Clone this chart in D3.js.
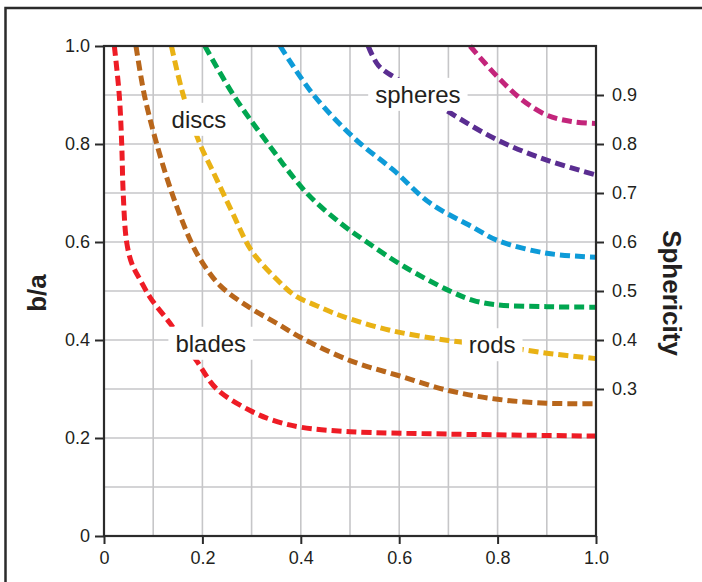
<!DOCTYPE html>
<html>
<head>
<meta charset="utf-8">
<script src="https://cdn.jsdelivr.net/npm/d3@7"></script>
<style>
  html, body { margin: 0; padding: 0; background: #fff; }
  svg { display: block; font-family: "Liberation Sans", Arial, Helvetica, sans-serif; }
</style>
</head>
<body>
<svg id="chart" width="702" height="582"></svg>
<script>
// ---- data ----
const xTicks = [0, 0.2, 0.4, 0.6, 0.8, 1.0];
const xTickLabels = ["0", "0.2", "0.4", "0.6", "0.8", "1.0"];
const yTicks = [0, 0.2, 0.4, 0.6, 0.8, 1.0];
const yTickLabels = ["0", "0.2", "0.4", "0.6", "0.8", "1.0"];
const sphericityTicks = [0.3, 0.4, 0.5, 0.6, 0.7, 0.8, 0.9];
const gridValues = [0.1, 0.2, 0.3, 0.4, 0.5, 0.6, 0.7, 0.8, 0.9];

const redCurve = [[0.021,1.0],[0.031,0.9],[0.036,0.8],[0.039,0.7],[0.046,0.6],[0.057,0.555],[0.075,0.52],[0.095,0.485],[0.135,0.433],[0.188,0.358],[0.229,0.3],[0.297,0.256],[0.344,0.236],[0.4,0.222],[0.5,0.213],[0.7,0.208],[1.0,0.204]];
const brownCurve = [[0.065,1.0],[0.082,0.9],[0.105,0.808],[0.138,0.7],[0.177,0.6],[0.2,0.558],[0.236,0.511],[0.29,0.47],[0.358,0.43],[0.4,0.405],[0.5,0.358],[0.6,0.327],[0.7,0.297],[0.8,0.279],[0.9,0.271],[1.0,0.27]];
const yellowCurve = [[0.137,1.0],[0.161,0.9],[0.195,0.8],[0.22,0.747],[0.26,0.662],[0.3,0.582],[0.351,0.524],[0.389,0.49],[0.432,0.47],[0.48,0.45],[0.581,0.42],[0.7,0.399],[0.8,0.388],[0.9,0.373],[1.0,0.362]];
const greenCurve = [[0.205,1.0],[0.263,0.9],[0.328,0.808],[0.412,0.7],[0.48,0.639],[0.534,0.6],[0.608,0.551],[0.703,0.5],[0.75,0.481],[0.797,0.472],[0.9,0.468],[1.0,0.467]];
const blueCurve = [[0.358,1.0],[0.426,0.9],[0.513,0.808],[0.588,0.747],[0.662,0.68],[0.75,0.63],[0.8,0.603],[0.9,0.577],[1.0,0.569]];
const purpleCurve = [[0.537,1.0],[0.558,0.96],[0.6,0.93],[0.65,0.9],[0.7,0.866],[0.8,0.808],[0.9,0.767],[1.0,0.737]];
const magentaCurve = [[0.744,1.0],[0.8,0.937],[0.85,0.89],[0.9,0.859],[0.95,0.846],[1.0,0.842]];

const curves = [redCurve, brownCurve, yellowCurve, greenCurve, blueCurve, purpleCurve, magentaCurve];
const curveColors = ["#ee1c25", "#b8661b", "#e9b215", "#00a650", "#0e9bd8", "#5a2d91", "#c3257b"];

const labelTexts = ["discs", "spheres", "blades", "rods"];
const labelX = [0.193, 0.638, 0.217, 0.789];
const labelY = [0.833, 0.884, 0.376, 0.373];

// ---- layout ----
const svg = d3.select("#chart");
const mLeft = 104, mTop = 46, plotW = 492, plotH = 490;
const x = d3.scaleLinear().domain([0, 1]).range([mLeft, mLeft + plotW]);
const y = d3.scaleLinear().domain([0, 1]).range([mTop + plotH, mTop]);

// outer frame (cropped at right/bottom)
svg.append("rect").attr("x", 5.5).attr("y", 8).attr("width", 900).attr("height", 900)
  .attr("fill", "none").attr("stroke", "#2b2b2b").attr("stroke-width", 2.5);

// grid
const grid = svg.append("g").attr("stroke", "#c6c6c8").attr("stroke-width", 1.6);
grid.selectAll(".gx").data(gridValues).join("line").attr("class", "gx")
  .attr("x1", d => x(d)).attr("x2", d => x(d)).attr("y1", y(0)).attr("y2", y(1));
grid.selectAll(".gy").data(gridValues).join("line").attr("class", "gy")
  .attr("y1", d => y(d)).attr("y2", d => y(d)).attr("x1", x(0)).attr("x2", x(1));

// curves
const line = d3.line().x(d => x(d[0])).y(d => y(d[1])).curve(d3.curveCatmullRom.alpha(0.5));
svg.append("g").selectAll("path").data(curves).join("path")
  .attr("d", line)
  .attr("fill", "none")
  .attr("stroke", (d, i) => curveColors[i])
  .attr("stroke-width", 5)
  .attr("stroke-dasharray", "10,5");

// labels with white backgrounds
const lg = svg.append("g");
labelTexts.forEach((t, i) => {
  const g = lg.append("g");
  const rect = g.append("rect").attr("fill", "#fff");
  const txt = g.append("text").attr("x", x(labelX[i])).attr("y", y(labelY[i]))
    .attr("text-anchor", "middle").attr("font-size", 24).attr("fill", "#231f20").text(t);
  const bb = txt.node().getBBox();
  rect.attr("x", bb.x - 7).attr("y", bb.y - 3).attr("width", bb.width + 14).attr("height", bb.height + 6);
});

// axes
const axisColor = "#2b2b2b";
function styleAxis(g) {
  g.select(".domain").remove();
  g.selectAll(".tick line").attr("stroke", axisColor).attr("stroke-width", 2);
  g.selectAll(".tick text").attr("fill", "#231f20").attr("font-size", 18)
    .attr("font-family", "'Liberation Sans', Arial, sans-serif");
}
svg.append("g").attr("transform", `translate(0,${y(0)})`)
  .call(d3.axisBottom(x).tickValues(xTicks).tickFormat((d, i) => xTickLabels[i]).tickSize(8).tickPadding(7))
  .call(styleAxis);
svg.append("g").attr("transform", `translate(${x(0)},0)`)
  .call(d3.axisLeft(y).tickValues(yTicks).tickFormat((d, i) => yTickLabels[i]).tickSize(9).tickPadding(5))
  .call(styleAxis);
svg.append("g").attr("transform", `translate(${x(1)},0)`)
  .call(d3.axisRight(y).tickValues(sphericityTicks).tickFormat(d3.format(".1f")).tickSize(8).tickPadding(8))
  .call(styleAxis);

// plot frame
svg.append("rect").attr("x", x(0)).attr("y", y(1)).attr("width", plotW).attr("height", plotH)
  .attr("fill", "none").attr("stroke", axisColor).attr("stroke-width", 2.2);

// axis titles
svg.append("text").attr("transform", `translate(46,${y(0.5) + 2}) rotate(-90)`)
  .attr("text-anchor", "middle").attr("font-weight", "bold").attr("font-size", 26).attr("fill", "#231f20").text("b/a");
svg.append("text").attr("transform", `translate(663,${y(0.5) + 2}) rotate(90)`)
  .attr("text-anchor", "middle").attr("font-weight", "bold").attr("font-size", 26).attr("fill", "#231f20").text("Sphericity");
</script>
</body>
</html>
